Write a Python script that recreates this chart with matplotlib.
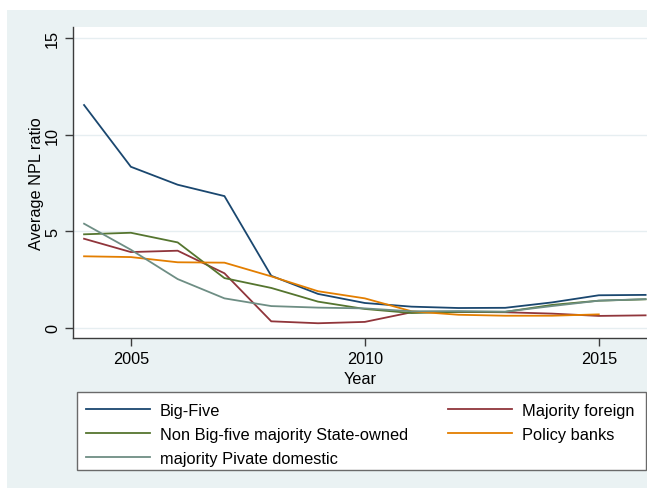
import matplotlib
matplotlib.use("Agg")
import matplotlib.pyplot as plt
from matplotlib.patches import Rectangle

plt.rcParams['font.family'] = ['Liberation Sans', 'DejaVu Sans']

years = [2004, 2005, 2006, 2007, 2008, 2009, 2010, 2011, 2012, 2013, 2014, 2015, 2016]
big_five = [11.54, 8.34, 7.41, 6.82, 2.69, 1.75, 1.28, 1.09, 1.02, 1.03, 1.31, 1.68, 1.70]
majority_foreign = [4.61, 3.92, 3.99, 2.82, 0.33, 0.23, 0.30, 0.80, 0.82, 0.80, 0.73, 0.61, 0.64]
non_big_five = [4.84, 4.92, 4.42, 2.57, 2.06, 1.35, 0.97, 0.76, 0.82, 0.82, 1.18, 1.40, 1.47]
policy_years = [2004, 2005, 2006, 2007, 2008, 2009, 2010, 2011, 2012, 2013, 2014, 2015]
policy_banks = [3.70, 3.66, 3.39, 3.37, 2.66, 1.89, 1.52, 0.85, 0.67, 0.62, 0.62, 0.69]
private_domestic = [5.39, 4.04, 2.52, 1.52, 1.12, 1.04, 1.00, 0.85, 0.86, 0.83, 1.12, 1.40, 1.48]

labels = ["Big-Five", "Majority foreign", "Non Big-five majority State-owned",
          "Policy banks", "majority Pivate domestic"]
colors = ["#1a476f", "#90353b", "#55752f", "#e37e00", "#6e8e84"]
xticks = [2005, 2010, 2015]
yticks = [0, 5, 10, 15]

W, H = 647, 489
fig = plt.figure(figsize=(W / 100, H / 100), dpi=100, facecolor="white")
bg = "#eaf2f3"
fig.add_artist(Rectangle((7 / W, 0), 1 - 7 / W, (H - 11) / H,
                         transform=fig.transFigure, facecolor=bg,
                         edgecolor="none", zorder=-10))

left, right = 73.3 / W, 1.0
bottom, top = (H - 339.3) / H, (H - 27.7) / H
ax = fig.add_axes([left, bottom, right - left, top - bottom])
ax.set_zorder(1)
ax.set_facecolor("white")

lw = 1.3
series = [
    (years, big_five),
    (years, majority_foreign),
    (years, non_big_five),
    (policy_years, policy_banks),
    (years, private_domestic),
]
handles = []
for (xs, ys), lab, col in zip(series, labels, colors):
    h, = ax.plot(xs, ys, color=col, lw=lw, label=lab, solid_joinstyle="miter")
    handles.append(h)

ax.set_xlim(2003.77, 2016.03)
ax.set_ylim(-0.55, 15.6)
ax.set_xticks(xticks)
ax.set_yticks(yticks)
ax.set_yticklabels([str(v) for v in yticks], rotation=90, va="center")
for v in yticks:
    ax.axhline(v, color="#e6eef1", lw=1.0, zorder=0)

for s in ["top", "right"]:
    ax.spines[s].set_visible(False)
for s in ["left", "bottom"]:
    ax.spines[s].set_color("#3c3c3c")
    ax.spines[s].set_linewidth(1.0)
ax.tick_params(axis="both", direction="out", length=6, width=1.0,
               color="#3c3c3c", labelsize=11.7, pad=3.5)

ax.set_xlabel("Year", fontsize=11.7, labelpad=3)
ax.set_ylabel("Average NPL ratio", fontsize=11.7, labelpad=1)

# legend frame and entries
fig.add_artist(Rectangle((77.3 / W, (H - 471) / H), (646.3 - 77.3) / W,
                         (471 - 393) / H, transform=fig.transFigure,
                         facecolor="white", edgecolor="#6a6a6a", lw=1.0,
                         zorder=1))
order = [0, 2, 4, 1, 3]
fs_leg = 11.8
leg = fig.legend([handles[i] for i in order], [labels[i] for i in order],
                 ncol=2, loc="upper left",
                 bbox_to_anchor=(86 / W, (H - 404) / H),
                 frameon=False, fontsize=fs_leg, handlelength=3.9,
                 handletextpad=0.61, columnspacing=2.44, labelspacing=0.55,
                 borderpad=0, borderaxespad=0)
leg.set_zorder(2)

fig.savefig("out.png", dpi=100, facecolor="white")
